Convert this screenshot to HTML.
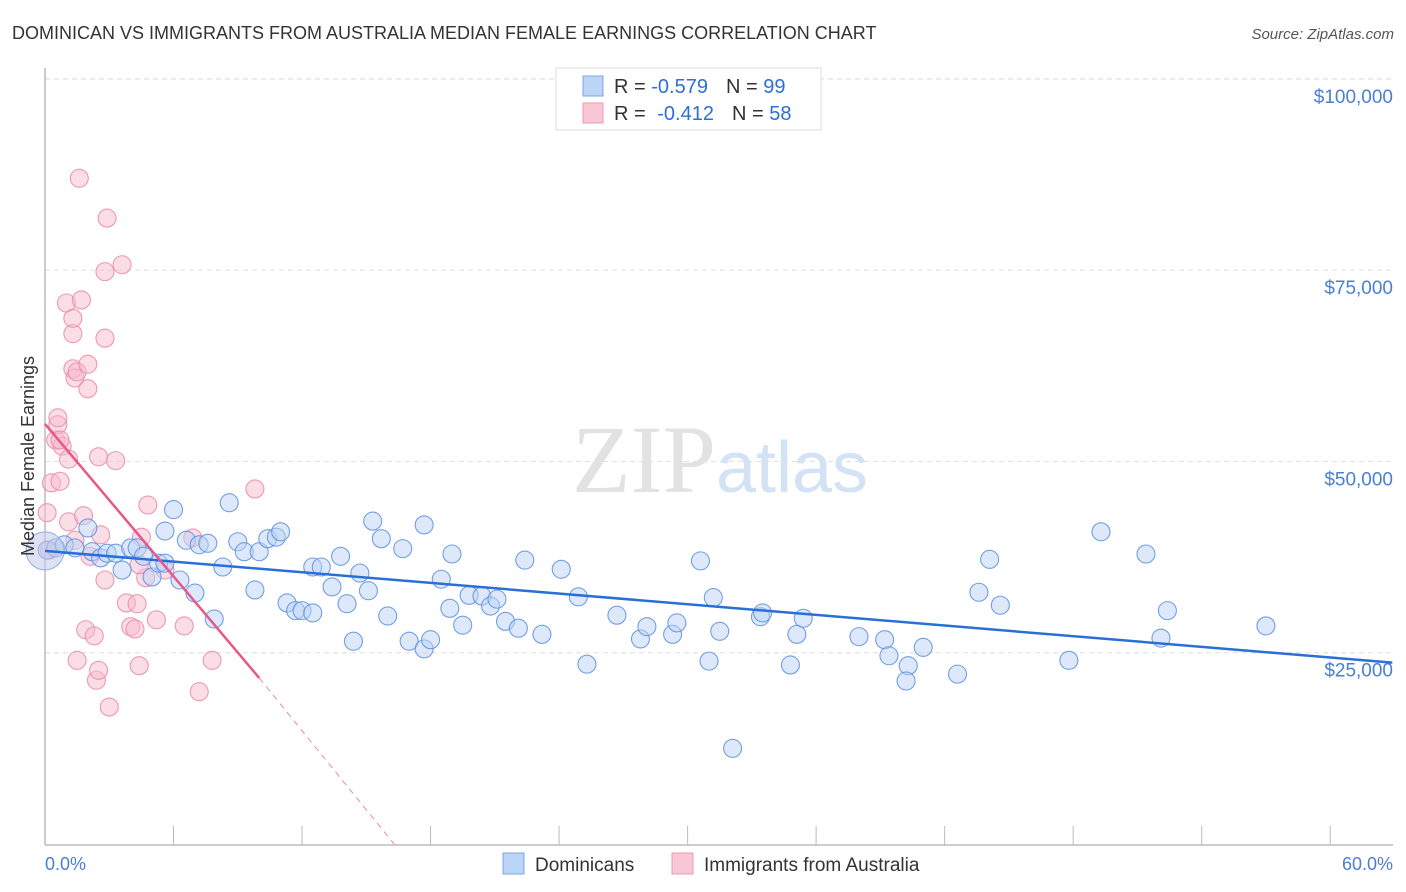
<!DOCTYPE html>
<html><head><meta charset="utf-8"><style>
body{margin:0;background:#fff;font-family:"Liberation Sans",sans-serif}
svg{display:block}
</style></head><body>
<svg id="chart" width="1406" height="892" xmlns="http://www.w3.org/2000/svg">
<text x="12" y="39" font-size="18" fill="#333" font-family="Liberation Sans">DOMINICAN VS IMMIGRANTS FROM AUSTRALIA MEDIAN FEMALE EARNINGS CORRELATION CHART</text>
<text x="1394" y="39" font-size="15" fill="#555" font-style="italic" text-anchor="end">Source: ZipAtlas.com</text>
<g id="grid"></g>
<text x="720" y="492" font-size="96" text-anchor="middle" fill="#e2e2e2" font-family="Liberation Serif">ZIP<tspan fill="#d3e2f5" font-family="Liberation Sans" font-size="72">atlas</tspan></text>
<g id="marks"></g>
<text transform="translate(34,456) rotate(-90)" font-size="18" fill="#333" text-anchor="middle">Median Female Earnings</text>
<text x="45" y="870" font-size="18" fill="#4a7fd4">0.0%</text>
<text x="1393" y="870" font-size="18" fill="#4a7fd4" text-anchor="end">60.0%</text>
<g>
<rect x="556" y="68" width="265" height="62" fill="#fff" stroke="#ddd"/>
<rect x="583" y="76" width="20" height="20" fill="#bcd4f5" stroke="#7aa6e6"/>
<rect x="583" y="103" width="20" height="20" fill="#f9c6d5" stroke="#ec9ab4"/>
<text x="614" y="93" font-size="20" fill="#333">R = <tspan fill="#2d6fd6">-0.579</tspan><tspan dx="18">N = </tspan><tspan fill="#2d6fd6">99</tspan></text>
<text x="614" y="120" font-size="20" fill="#333">R = <tspan fill="#2d6fd6" dx="6">-0.412</tspan><tspan dx="18">N = </tspan><tspan fill="#2d6fd6">58</tspan></text>
</g>
<g>
<rect x="503" y="853" width="21" height="21" fill="#bcd4f5" stroke="#7aa6e6"/>
<text x="535" y="871" font-size="19" fill="#333">Dominicans</text>
<rect x="672" y="853" width="21" height="21" fill="#f9c6d5" stroke="#ec9ab4"/>
<text x="704" y="871" font-size="19" fill="#333">Immigrants from Australia</text>
</g>
</svg>
<script>
const yTicks=[25,50,75,100];
const xTicks=[0,6,12,18,24,30,36,42,48,54,60];
const blueX=[0.1,0.5,0.9,1.4,2.0,2.2,2.6,2.9,3.3,3.6,4.0,4.3,4.6,5.0,5.3,5.6,5.6,6.0,6.3,6.6,7.0,7.2,7.6,7.9,8.3,8.6,9.0,9.3,9.8,10.0,10.4,10.8,11.0,11.3,11.7,12.0,12.5,12.5,12.9,13.4,13.8,14.1,14.4,14.7,15.1,15.3,15.7,16.0,16.7,17.0,17.7,17.7,18.0,18.5,18.9,19.0,19.5,19.8,20.4,20.8,21.1,21.5,22.1,22.4,23.2,24.1,24.9,25.3,26.7,27.8,28.1,29.3,29.5,30.6,31.0,31.2,31.5,32.1,33.4,33.5,34.8,35.1,35.4,38.0,39.2,39.4,40.3,40.2,41.0,42.6,43.6,44.1,44.6,47.8,49.3,51.4,52.1,52.4,57.0];
const blueY=[38.4,38.7,39.1,38.7,41.3,38.2,37.4,38.0,38.0,35.8,38.7,38.7,37.6,34.9,36.7,36.7,40.9,43.7,34.5,39.7,32.8,39.1,39.3,29.4,36.2,44.6,39.5,38.2,33.2,38.2,39.9,40.1,40.8,31.5,30.5,30.5,30.2,36.2,36.2,33.6,37.6,31.4,26.5,35.4,33.1,42.2,39.9,29.8,38.6,26.5,41.7,25.5,26.7,34.6,30.8,37.9,28.6,32.5,32.4,31.1,32.0,29.1,28.2,37.1,27.4,35.9,32.3,23.5,29.9,26.8,28.4,27.4,28.9,37.0,23.9,32.2,27.8,12.5,29.7,30.2,23.4,27.4,29.5,27.1,26.7,24.6,23.3,21.3,25.7,22.2,32.9,37.2,31.2,24.0,40.8,37.9,26.9,30.5,28.5];
const pinkX=[0.1,0.2,0.3,0.5,0.6,0.6,0.8,0.7,1.1,1.1,1.3,1.3,1.0,1.3,1.4,1.5,1.7,1.6,1.8,2.0,2.0,1.9,1.5,2.3,2.4,2.5,2.6,2.8,2.5,2.8,2.8,2.9,3.0,3.3,3.6,3.8,4.0,4.2,4.3,4.4,4.5,4.8,4.7,5.2,6.5,6.9,7.2,7.8,9.8,2.1,0.7,5.6,1.4,4.4];
const pinkY=[43.3,38.4,47.2,52.8,54.8,55.7,52.0,47.4,50.3,42.1,62.1,66.7,70.7,68.7,60.9,61.7,71.1,87.0,42.9,59.5,62.7,28.0,24.0,27.2,21.4,22.7,40.4,34.5,50.6,66.1,74.8,81.8,17.9,50.1,75.7,31.5,28.4,28.1,31.4,23.3,40.1,44.3,34.8,29.3,28.5,40.0,19.9,24.0,46.4,37.6,52.8,35.8,39.7,36.5];
const blueTrend=[[0,38.3],[62.9,23.7]];
const pinkTrend=[[0,54.9],[10.0,21.7]];
const pinkDash=[[10.0,21.7],[16.3,0]];
const X=v=>45+v*21.42, Y=v=>844-v*7.652;
const NS='http://www.w3.org/2000/svg';
function mk(tag,attrs,parent){const e=document.createElementNS(NS,tag);for(const k in attrs)e.setAttribute(k,attrs[k]);parent.appendChild(e);return e;}
const grid=document.getElementById('grid'),marks=document.getElementById('marks');
let l=mk('line',{x1:45,y1:79,x2:1393,y2:79,stroke:'#ddd','stroke-dasharray':'5,4'},grid);


yTicks.forEach(t=>{
 const g=mk('line',{x1:45,y1:Y(t),x2:1393,y2:Y(t),stroke:'#ddd','stroke-dasharray':'5,4'},grid);
 
 
 const tx=mk('text',{x:1393,y:Y(t)+24,'font-size':19,fill:'#4a7fd4','text-anchor':'end'},grid);
 tx.textContent='$'+(t*1000).toLocaleString('en-US');
 
 
});
const ax=mk('line',{x1:45,y1:68,x2:45,y2:845,stroke:'#bbb','stroke-width':1.5},grid);


const bx=mk('line',{x1:45,y1:845,x2:1393,y2:845,stroke:'#bbb','stroke-width':1.5},grid);


xTicks.forEach(t=>{
 const k=mk('line',{x1:X(t),y1:826,x2:X(t),y2:845,stroke:'#bbb'},grid);
 
 
});
function dots(xs,ys,fill,stroke,name){xs.forEach((x,i)=>{
 const c=mk('circle',{cx:X(x),cy:Y(ys[i]),r:9,fill:fill,'fill-opacity':0.5,stroke:stroke,'stroke-width':1.1,'stroke-opacity':0.85},marks);
 
 
});}
dots(pinkX,pinkY,'#f7bccd','#e98aa8','pink-point');
dots(blueX,blueY,'#bcd4f5','#5a8fe0','blue-point');
const big=mk('circle',{cx:X(0),cy:Y(38.3),r:19,fill:'#c3c8ea','fill-opacity':0.55,stroke:'#8fb0e8'},marks);


const bt=mk('line',{x1:X(blueTrend[0][0]),y1:Y(blueTrend[0][1]),x2:X(blueTrend[1][0]),y2:Y(blueTrend[1][1]),stroke:'#2a6fd8','stroke-width':2.5},marks);


const pt=mk('line',{x1:X(pinkTrend[0][0]),y1:Y(pinkTrend[0][1]),x2:X(pinkTrend[1][0]),y2:Y(pinkTrend[1][1]),stroke:'#e4588a','stroke-width':2.5},marks);


const pd=mk('line',{x1:X(pinkDash[0][0]),y1:Y(pinkDash[0][1]),x2:X(pinkDash[1][0]),y2:Y(pinkDash[1][1]),stroke:'#e98aa8','stroke-width':1,'stroke-dasharray':'6,5'},marks);


</script>
</body></html>
